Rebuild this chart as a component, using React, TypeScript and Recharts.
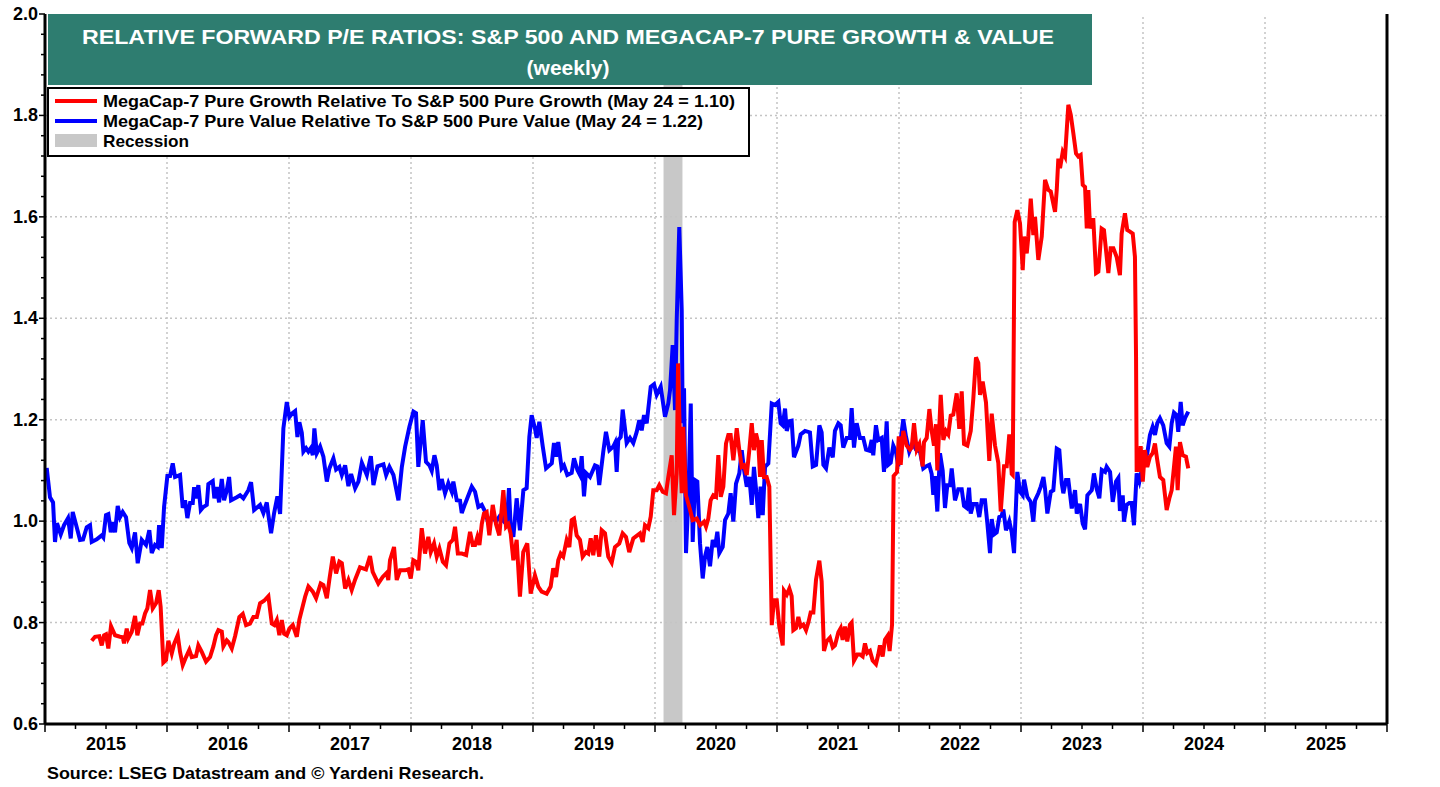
import { LineChart, Line, XAxis, YAxis, ReferenceArea, ReferenceLine } from "recharts"

// MegaCap-7 Pure Growth relative to S&P 500 Pure Growth, weekly (decimal year, ratio)
const growthSeries: [number, number][] = [
  [2015.383, 0.764], [2015.41, 0.772], [2015.445, 0.773], [2015.465, 0.755], [2015.484, 0.775], [2015.5, 0.777],
  [2015.519, 0.749], [2015.541, 0.793], [2015.574, 0.775], [2015.615, 0.772], [2015.637, 0.771], [2015.648, 0.759],
  [2015.67, 0.788], [2015.683, 0.769], [2015.711, 0.782], [2015.738, 0.813], [2015.757, 0.775], [2015.779, 0.798],
  [2015.798, 0.798], [2015.82, 0.818], [2015.839, 0.828], [2015.861, 0.864], [2015.883, 0.828], [2015.91, 0.838],
  [2015.932, 0.864], [2015.948, 0.831], [2015.97, 0.721], [2015.992, 0.726], [2016.011, 0.764], [2016.039, 0.739],
  [2016.06, 0.759], [2016.088, 0.775], [2016.107, 0.742], [2016.129, 0.716], [2016.156, 0.732], [2016.183, 0.746],
  [2016.203, 0.732], [2016.238, 0.734], [2016.257, 0.755], [2016.285, 0.742], [2016.32, 0.723], [2016.353, 0.732],
  [2016.38, 0.753], [2016.402, 0.775], [2016.421, 0.785], [2016.449, 0.782], [2016.462, 0.753], [2016.49, 0.765],
  [2016.503, 0.762], [2016.531, 0.749], [2016.558, 0.773], [2016.593, 0.811], [2016.621, 0.817], [2016.648, 0.795],
  [2016.68, 0.798], [2016.708, 0.811], [2016.736, 0.811], [2016.763, 0.838], [2016.796, 0.843], [2016.831, 0.852],
  [2016.859, 0.798], [2016.88, 0.795], [2016.9, 0.805], [2016.921, 0.775], [2016.941, 0.805], [2016.96, 0.778],
  [2016.982, 0.775], [2017.003, 0.788], [2017.031, 0.795], [2017.064, 0.772], [2017.085, 0.806], [2017.132, 0.851],
  [2017.159, 0.871], [2017.195, 0.861], [2017.222, 0.848], [2017.26, 0.877], [2017.282, 0.874], [2017.31, 0.848],
  [2017.331, 0.885], [2017.359, 0.93], [2017.386, 0.897], [2017.413, 0.92], [2017.433, 0.917], [2017.46, 0.867],
  [2017.487, 0.884], [2017.514, 0.864], [2017.541, 0.884], [2017.582, 0.909], [2017.631, 0.905], [2017.664, 0.931],
  [2017.686, 0.9], [2017.732, 0.877], [2017.768, 0.89], [2017.801, 0.898], [2017.814, 0.884], [2017.828, 0.923],
  [2017.861, 0.949], [2017.883, 0.884], [2017.91, 0.903], [2017.951, 0.903], [2017.978, 0.905], [2017.998, 0.887],
  [2018.019, 0.923], [2018.041, 0.92], [2018.06, 0.903], [2018.088, 0.986], [2018.115, 0.936], [2018.142, 0.969],
  [2018.162, 0.939], [2018.189, 0.956], [2018.211, 0.93], [2018.233, 0.946], [2018.261, 0.92], [2018.287, 0.913],
  [2018.315, 0.956], [2018.343, 0.963], [2018.361, 0.989], [2018.384, 0.936], [2018.417, 0.936], [2018.452, 0.933],
  [2018.484, 0.979], [2018.506, 0.953], [2018.525, 0.953], [2018.544, 0.969], [2018.561, 0.953], [2018.58, 0.994],
  [2018.598, 1.015], [2018.62, 1.018], [2018.642, 0.972], [2018.67, 1.032], [2018.697, 0.994], [2018.724, 0.972],
  [2018.757, 1.061], [2018.779, 0.989], [2018.798, 0.994], [2018.817, 0.975], [2018.839, 0.923], [2018.866, 0.963],
  [2018.893, 0.851], [2018.92, 0.939], [2018.953, 0.956], [2018.981, 0.857], [2019.016, 0.893], [2019.043, 0.871],
  [2019.071, 0.861], [2019.112, 0.857], [2019.145, 0.871], [2019.166, 0.907], [2019.189, 0.89], [2019.207, 0.923],
  [2019.227, 0.936], [2019.248, 0.93], [2019.276, 0.963], [2019.298, 0.949], [2019.317, 1.002], [2019.336, 1.005],
  [2019.358, 0.972], [2019.385, 0.963], [2019.407, 0.93], [2019.434, 0.939], [2019.453, 0.936], [2019.473, 0.966],
  [2019.494, 0.933], [2019.516, 0.972], [2019.543, 0.93], [2019.563, 0.982], [2019.59, 0.976], [2019.617, 0.93],
  [2019.645, 0.918], [2019.672, 0.949], [2019.707, 0.956], [2019.735, 0.976], [2019.762, 0.969], [2019.789, 0.939],
  [2019.822, 0.966], [2019.855, 0.972], [2019.877, 0.976], [2019.899, 0.959], [2019.918, 0.992], [2019.945, 0.986],
  [2019.965, 1.009], [2019.986, 1.061], [2020.014, 1.061], [2020.035, 1.071], [2020.063, 1.058], [2020.09, 1.055],
  [2020.109, 1.087], [2020.137, 1.13], [2020.156, 1.012], [2020.178, 1.094], [2020.189, 1.311], [2020.205, 1.153],
  [2020.219, 1.055], [2020.232, 1.186], [2020.254, 1.051], [2020.281, 1.028], [2020.309, 1.002], [2020.342, 1.005],
  [2020.369, 0.992], [2020.402, 0.999], [2020.418, 0.989], [2020.437, 1.005], [2020.456, 1.041], [2020.478, 1.051],
  [2020.5, 1.048], [2020.519, 1.13], [2020.539, 1.048], [2020.56, 1.068], [2020.582, 1.153], [2020.601, 1.17],
  [2020.62, 1.17], [2020.642, 1.12], [2020.67, 1.183], [2020.691, 1.14], [2020.711, 1.107], [2020.73, 1.11],
  [2020.752, 1.091], [2020.773, 1.14], [2020.793, 1.193], [2020.811, 1.14], [2020.828, 1.173], [2020.847, 1.153],
  [2020.861, 1.087], [2020.875, 1.16], [2020.893, 1.087], [2020.915, 1.087], [2020.937, 1.068], [2020.957, 0.795],
  [2020.975, 0.844], [2020.998, 0.844], [2021.019, 0.792], [2021.047, 0.755], [2021.057, 0.863], [2021.08, 0.855],
  [2021.101, 0.867], [2021.12, 0.852], [2021.134, 0.785], [2021.156, 0.789], [2021.175, 0.811], [2021.194, 0.792],
  [2021.216, 0.796], [2021.238, 0.785], [2021.257, 0.8], [2021.276, 0.82], [2021.298, 0.82], [2021.32, 0.885],
  [2021.347, 0.922], [2021.366, 0.881], [2021.385, 0.744], [2021.407, 0.763], [2021.434, 0.77], [2021.457, 0.751],
  [2021.475, 0.755], [2021.503, 0.781], [2021.522, 0.789], [2021.538, 0.766], [2021.557, 0.792], [2021.576, 0.763],
  [2021.598, 0.796], [2021.612, 0.8], [2021.631, 0.725], [2021.658, 0.737], [2021.68, 0.737], [2021.702, 0.733],
  [2021.721, 0.759], [2021.74, 0.74], [2021.762, 0.744], [2021.784, 0.725], [2021.811, 0.718], [2021.83, 0.737],
  [2021.844, 0.755], [2021.866, 0.733], [2021.885, 0.766], [2021.907, 0.774], [2021.923, 0.744], [2021.943, 0.796],
  [2021.956, 1.089], [2021.984, 1.097], [2021.998, 1.167], [2022.014, 1.111], [2022.035, 1.178], [2022.063, 1.149],
  [2022.09, 1.141], [2022.104, 1.145], [2022.123, 1.193], [2022.145, 1.141], [2022.167, 1.152], [2022.194, 1.108],
  [2022.205, 1.156], [2022.227, 1.164], [2022.249, 1.221], [2022.268, 1.178], [2022.287, 1.149], [2022.303, 1.191],
  [2022.314, 1.1], [2022.342, 1.249], [2022.363, 1.16], [2022.385, 1.178], [2022.404, 1.171], [2022.424, 1.208],
  [2022.445, 1.21], [2022.473, 1.252], [2022.494, 1.182], [2022.514, 1.256], [2022.533, 1.152], [2022.56, 1.149],
  [2022.588, 1.178], [2022.609, 1.241], [2022.631, 1.323], [2022.65, 1.312], [2022.664, 1.249], [2022.686, 1.275],
  [2022.713, 1.234], [2022.74, 1.119], [2022.76, 1.212], [2022.787, 1.149], [2022.814, 1.115], [2022.834, 1.019],
  [2022.861, 1.108], [2022.883, 1.108], [2022.904, 1.171], [2022.924, 1.093], [2022.932, 1.091], [2022.948, 1.59],
  [2022.97, 1.613], [2022.992, 1.587], [2023.014, 1.495], [2023.027, 1.561], [2023.047, 1.528], [2023.06, 1.561],
  [2023.08, 1.636], [2023.101, 1.564], [2023.115, 1.6], [2023.142, 1.515], [2023.17, 1.561], [2023.197, 1.673],
  [2023.224, 1.653], [2023.244, 1.65], [2023.279, 1.61], [2023.293, 1.653], [2023.306, 1.715], [2023.32, 1.696],
  [2023.342, 1.728], [2023.361, 1.719], [2023.388, 1.821], [2023.408, 1.801], [2023.429, 1.765], [2023.451, 1.725],
  [2023.47, 1.719], [2023.489, 1.722], [2023.506, 1.663], [2023.525, 1.659], [2023.539, 1.577], [2023.552, 1.653],
  [2023.566, 1.577], [2023.58, 1.594], [2023.593, 1.594], [2023.615, 1.489], [2023.634, 1.492], [2023.661, 1.577],
  [2023.68, 1.574], [2023.716, 1.489], [2023.735, 1.538], [2023.757, 1.538], [2023.784, 1.521], [2023.811, 1.485],
  [2023.825, 1.567], [2023.852, 1.607], [2023.871, 1.574], [2023.893, 1.571], [2023.916, 1.567], [2023.934, 1.521],
  [2023.943, 1.324], [2023.948, 1.101], [2023.97, 1.101], [2023.981, 1.148], [2023.998, 1.078], [2024.016, 1.14],
  [2024.035, 1.107], [2024.057, 1.127], [2024.079, 1.134], [2024.098, 1.153], [2024.117, 1.12], [2024.139, 1.087],
  [2024.166, 1.081], [2024.194, 1.022], [2024.216, 1.045], [2024.235, 1.061], [2024.254, 1.107], [2024.27, 1.147],
  [2024.284, 1.061], [2024.303, 1.156], [2024.325, 1.13], [2024.352, 1.127], [2024.371, 1.104],
]

// MegaCap-7 Pure Value relative to S&P 500 Pure Value, weekly (decimal year, ratio)
const valueSeries: [number, number][] = [
  [2015.014, 1.105], [2015.041, 1.047], [2015.066, 1.037], [2015.082, 0.959], [2015.098, 0.996], [2015.129, 0.974],
  [2015.156, 0.992], [2015.189, 1.006], [2015.211, 0.966], [2015.227, 1.018], [2015.26, 0.988], [2015.287, 0.963],
  [2015.312, 0.964], [2015.342, 0.988], [2015.369, 0.992], [2015.383, 0.959], [2015.424, 0.964], [2015.465, 0.972],
  [2015.478, 0.968], [2015.5, 1.012], [2015.519, 1.014], [2015.539, 0.978], [2015.555, 0.998], [2015.574, 0.978],
  [2015.596, 1.03], [2015.615, 1.008], [2015.637, 1.018], [2015.664, 1.008], [2015.691, 0.957], [2015.711, 0.947],
  [2015.738, 0.978], [2015.76, 0.917], [2015.793, 0.963], [2015.828, 0.953], [2015.855, 0.982], [2015.875, 0.937],
  [2015.902, 0.953], [2015.924, 0.949], [2015.935, 0.992], [2015.957, 0.947], [2015.976, 1.028], [2016.003, 1.089],
  [2016.025, 1.089], [2016.047, 1.114], [2016.066, 1.087], [2016.107, 1.091], [2016.129, 1.026], [2016.148, 1.041],
  [2016.167, 1.006], [2016.189, 1.036], [2016.211, 1.036], [2016.222, 1.067], [2016.238, 1.045], [2016.257, 1.071],
  [2016.277, 1.022], [2016.298, 1.028], [2016.326, 1.032], [2016.339, 1.073], [2016.375, 1.079], [2016.388, 1.045],
  [2016.408, 1.067], [2016.427, 1.037], [2016.449, 1.083], [2016.468, 1.041], [2016.49, 1.061], [2016.509, 1.087],
  [2016.525, 1.041], [2016.572, 1.047], [2016.599, 1.051], [2016.626, 1.045], [2016.667, 1.061], [2016.689, 1.077],
  [2016.714, 1.022], [2016.763, 1.032], [2016.79, 1.016], [2016.818, 1.037], [2016.831, 1.012], [2016.853, 0.976],
  [2016.878, 1.016], [2016.905, 1.049], [2016.927, 1.014], [2016.954, 1.183], [2016.982, 1.235], [2017.003, 1.205],
  [2017.028, 1.213], [2017.05, 1.217], [2017.069, 1.166], [2017.085, 1.195], [2017.105, 1.174], [2017.118, 1.137],
  [2017.14, 1.144], [2017.159, 1.137], [2017.179, 1.144], [2017.195, 1.13], [2017.208, 1.183], [2017.228, 1.134],
  [2017.255, 1.147], [2017.282, 1.127], [2017.31, 1.078], [2017.331, 1.104], [2017.364, 1.124], [2017.386, 1.102],
  [2017.413, 1.107], [2017.433, 1.091], [2017.46, 1.11], [2017.487, 1.069], [2017.509, 1.093], [2017.542, 1.065],
  [2017.569, 1.078], [2017.597, 1.115], [2017.638, 1.091], [2017.671, 1.128], [2017.692, 1.071], [2017.725, 1.108],
  [2017.774, 1.112], [2017.796, 1.091], [2017.823, 1.107], [2017.856, 1.091], [2017.897, 1.041], [2017.925, 1.107],
  [2017.952, 1.147], [2017.987, 1.186], [2018.02, 1.216], [2018.041, 1.213], [2018.06, 1.107], [2018.096, 1.199],
  [2018.123, 1.117], [2018.151, 1.11], [2018.17, 1.099], [2018.192, 1.13], [2018.211, 1.11], [2018.233, 1.061],
  [2018.252, 1.083], [2018.279, 1.055], [2018.306, 1.075], [2018.334, 1.058], [2018.347, 1.078], [2018.375, 1.041],
  [2018.402, 1.04], [2018.416, 1.016], [2018.443, 1.034], [2018.498, 1.068], [2018.525, 1.058], [2018.552, 1.028],
  [2018.58, 1.032], [2018.607, 1.019], [2018.634, 0.996], [2018.662, 1.009], [2018.697, 0.999], [2018.725, 1.009],
  [2018.752, 1.002], [2018.77, 1.036], [2018.784, 0.989], [2018.803, 1.065], [2018.817, 0.989], [2018.839, 0.969],
  [2018.866, 1.045], [2018.893, 0.982], [2018.921, 1.061], [2018.948, 1.065], [2018.97, 1.166], [2018.989, 1.209],
  [2019.016, 1.183], [2019.03, 1.164], [2019.052, 1.196], [2019.08, 1.147], [2019.107, 1.104], [2019.154, 1.114],
  [2019.172, 1.154], [2019.189, 1.127], [2019.207, 1.156], [2019.235, 1.104], [2019.254, 1.11], [2019.281, 1.091],
  [2019.317, 1.095], [2019.336, 1.124], [2019.364, 1.101], [2019.385, 1.091], [2019.399, 1.128], [2019.418, 1.049],
  [2019.434, 1.095], [2019.467, 1.087], [2019.508, 1.11], [2019.527, 1.108], [2019.543, 1.071], [2019.576, 1.137],
  [2019.598, 1.176], [2019.626, 1.14], [2019.658, 1.147], [2019.672, 1.154], [2019.686, 1.097], [2019.699, 1.16],
  [2019.719, 1.166], [2019.735, 1.22], [2019.768, 1.154], [2019.795, 1.164], [2019.822, 1.154], [2019.85, 1.176],
  [2019.871, 1.199], [2019.891, 1.179], [2019.91, 1.209], [2019.932, 1.193], [2019.965, 1.265], [2019.992, 1.27],
  [2020.014, 1.249], [2020.047, 1.265], [2020.082, 1.206], [2020.109, 1.232], [2020.123, 1.258], [2020.145, 1.347],
  [2020.164, 1.219], [2020.178, 1.396], [2020.199, 1.58], [2020.219, 1.416], [2020.227, 1.193], [2020.238, 1.262],
  [2020.254, 0.937], [2020.273, 1.041], [2020.293, 1.232], [2020.309, 0.959], [2020.328, 1.081], [2020.347, 1.078],
  [2020.369, 0.956], [2020.391, 0.887], [2020.41, 0.93], [2020.429, 0.949], [2020.451, 0.911], [2020.473, 0.963],
  [2020.492, 0.949], [2020.511, 0.979], [2020.527, 0.937], [2020.555, 0.949], [2020.574, 1.002], [2020.601, 1.015],
  [2020.62, 1.055], [2020.642, 0.999], [2020.664, 1.074], [2020.691, 1.094], [2020.711, 1.14], [2020.73, 1.101],
  [2020.752, 1.068], [2020.773, 1.087], [2020.793, 1.032], [2020.811, 1.107], [2020.834, 1.048], [2020.847, 1.006],
  [2020.866, 1.068], [2020.883, 1.012], [2020.902, 1.107], [2020.929, 1.114], [2020.957, 1.232], [2020.984, 1.229],
  [2021.011, 1.235], [2021.03, 1.193], [2021.047, 1.189], [2021.066, 1.222], [2021.08, 1.178], [2021.101, 1.197],
  [2021.12, 1.198], [2021.139, 1.126], [2021.175, 1.149], [2021.194, 1.171], [2021.23, 1.178], [2021.27, 1.175],
  [2021.293, 1.108], [2021.32, 1.111], [2021.347, 1.189], [2021.366, 1.175], [2021.38, 1.111], [2021.402, 1.104],
  [2021.429, 1.145], [2021.457, 1.126], [2021.475, 1.178], [2021.503, 1.193], [2021.522, 1.189], [2021.543, 1.145],
  [2021.571, 1.164], [2021.598, 1.164], [2021.612, 1.223], [2021.631, 1.145], [2021.653, 1.193], [2021.68, 1.164],
  [2021.707, 1.164], [2021.73, 1.141], [2021.757, 1.139], [2021.776, 1.16], [2021.789, 1.13], [2021.811, 1.189],
  [2021.83, 1.16], [2021.858, 1.164], [2021.877, 1.097], [2021.899, 1.197], [2021.912, 1.111], [2021.932, 1.115],
  [2021.953, 1.149], [2021.975, 1.137], [2021.994, 1.108], [2022.014, 1.16], [2022.035, 1.201], [2022.057, 1.167],
  [2022.084, 1.137], [2022.112, 1.154], [2022.139, 1.141], [2022.172, 1.137], [2022.199, 1.104], [2022.221, 1.108],
  [2022.248, 1.111], [2022.268, 1.093], [2022.281, 1.052], [2022.295, 1.089], [2022.314, 1.019], [2022.336, 1.134],
  [2022.358, 1.1], [2022.377, 1.026], [2022.396, 1.071], [2022.418, 1.071], [2022.432, 1.104], [2022.459, 1.041],
  [2022.486, 1.063], [2022.514, 1.063], [2022.533, 1.03], [2022.555, 1.026], [2022.574, 1.066], [2022.588, 1.015],
  [2022.609, 1.034], [2022.637, 1.034], [2022.658, 1.008], [2022.678, 1.041], [2022.705, 1.041], [2022.724, 0.996],
  [2022.746, 0.937], [2022.76, 1.004], [2022.779, 0.974], [2022.801, 0.978], [2022.822, 1.008], [2022.842, 1.011],
  [2022.855, 1.023], [2022.877, 0.982], [2022.904, 1.0], [2022.924, 0.978], [2022.943, 0.937], [2022.97, 1.097],
  [2022.992, 1.058], [2023.014, 1.051], [2023.025, 1.082], [2023.052, 1.048], [2023.08, 1.038], [2023.101, 0.999],
  [2023.115, 1.041], [2023.142, 1.055], [2023.162, 1.068], [2023.184, 1.087], [2023.197, 1.064], [2023.216, 1.015],
  [2023.244, 1.058], [2023.265, 1.061], [2023.293, 1.143], [2023.314, 1.14], [2023.334, 1.074], [2023.347, 1.055],
  [2023.369, 1.081], [2023.388, 1.081], [2023.416, 1.025], [2023.443, 1.061], [2023.457, 1.015], [2023.484, 1.034],
  [2023.506, 0.995], [2023.525, 0.984], [2023.544, 1.051], [2023.58, 1.061], [2023.598, 1.094], [2023.62, 1.064],
  [2023.642, 1.045], [2023.662, 1.101], [2023.689, 1.097], [2023.702, 1.107], [2023.73, 1.097], [2023.752, 1.038],
  [2023.779, 1.078], [2023.798, 1.085], [2023.811, 1.02], [2023.834, 1.051], [2023.844, 0.999], [2023.866, 1.032],
  [2023.888, 1.036], [2023.907, 1.036], [2023.926, 0.992], [2023.948, 1.094], [2023.97, 1.078], [2023.989, 1.101],
  [2024.016, 1.12], [2024.035, 1.134], [2024.057, 1.17], [2024.079, 1.186], [2024.098, 1.17], [2024.117, 1.193],
  [2024.139, 1.203], [2024.166, 1.189], [2024.194, 1.154], [2024.216, 1.147], [2024.235, 1.193], [2024.254, 1.214],
  [2024.276, 1.209], [2024.289, 1.176], [2024.309, 1.235], [2024.325, 1.189], [2024.344, 1.203], [2024.371, 1.216],
]

// NBER recession (Feb-Apr 2020), decimal years
const recession = [2020.07, 2020.225]

const yearLabels = [2015, 2016, 2017, 2018, 2019, 2020, 2021, 2022, 2023, 2024, 2025]
const yMajorTicks = [0.6, 0.8, 1.0, 1.2, 1.4, 1.6, 1.8, 2.0]
const gridValues = [0.8, 1.0, 1.2, 1.4, 1.6, 1.8]

const title = "RELATIVE FORWARD P/E RATIOS: S&P 500 AND MEGACAP-7 PURE GROWTH & VALUE"
const subtitle = "(weekly)"
const growthLabel = "MegaCap-7 Pure Growth Relative To S&P 500 Pure Growth (May 24 = 1.10)"
const valueLabel = "MegaCap-7 Pure Value Relative To S&P 500 Pure Value (May 24 = 1.22)"
const source = "Source: LSEG Datastream and \u00a9 Yardeni Research."

const FONT = "'Liberation Sans', Arial, sans-serif"
const RED = "#ff0000"
const BLUE = "#0000ff"
const TEAL = "#2e7d70"

const growthData = growthSeries.map(([t, v]) => ({ t, v }))
const valueData = valueSeries.map(([t, v]) => ({ t, v }))

// quarterly ticks on x, minor 0.04 ticks on y
const xTicks: number[] = []
for (let y = yearLabels[0]; y <= 2026; y += 0.25) xTicks.push(y)
const yTicks: number[] = []
for (let i = 0; i <= 35; i++) yTicks.push(Math.round((0.6 + i * 0.04) * 100) / 100)

const isMajorY = (v: number) => yMajorTicks.some((m) => Math.abs(m - v) < 1e-6)

const LeftTick = (props: any) => {
  const { x, y, payload } = props
  const major = isMajorY(payload.value)
  return (
    <g>
      <line x1={x} x2={x - (major ? 6 : 4)} y1={y} y2={y} stroke="#000" strokeWidth={1.5} />
      {major && (
        <text x={x - 7} y={y + 6} textAnchor="end" fontFamily={FONT} fontWeight="bold" fontSize={18} fill="#000">
          {payload.value.toFixed(1)}
        </text>
      )}
    </g>
  )
}

const RightTick = (props: any) => {
  const { x, y, payload } = props
  const major = isMajorY(payload.value)
  return (
    <g>
      <line x1={x} x2={x + (major ? 6 : 4)} y1={y} y2={y} stroke="#000" strokeWidth={1.5} />
      {major && (
        <text x={x + 9} y={y + 6} textAnchor="start" fontFamily={FONT} fontWeight="bold" fontSize={18} fill="#000">
          {payload.value.toFixed(1)}
        </text>
      )}
    </g>
  )
}

const BottomTick = (props: any) => {
  const { x, y, payload } = props
  const v = payload.value as number
  const frac = v - Math.floor(v)
  const major = frac < 1e-6
  return (
    <g>
      <line x1={x} x2={x} y1={y} y2={y + (major ? 8 : 5)} stroke="#000" strokeWidth={1.5} />
      {Math.abs(frac - 0.5) < 1e-6 && (
        <text x={x} y={y + 26} textAnchor="middle" fontFamily={FONT} fontWeight="bold" fontSize={18} fill="#000">
          {Math.floor(v)}
        </text>
      )}
    </g>
  )
}

export default function App() {
  return (
    <div style={{ position: "absolute", left: 0, top: 0, width: 1440, height: 787, background: "#fff" }}>
      <LineChart width={1440} height={787} margin={{ top: 14, right: 0, bottom: 33, left: 0 }}>
        <XAxis
          type="number"
          dataKey="t"
          domain={[2015, 2026]}
          ticks={xTicks}
          allowDataOverflow
          height={30}
          tickSize={0}
          tickMargin={0}
          tickLine={false}
          interval={0}
          tick={<BottomTick />}
          axisLine={{ stroke: "#000", strokeWidth: 3 }}
        />
        <YAxis
          yAxisId="left"
          domain={[0.6, 2.0]}
          ticks={yTicks}
          width={45}
          tickSize={0}
          tickMargin={0}
          tickLine={false}
          interval={0}
          tick={<LeftTick />}
          axisLine={{ stroke: "#000", strokeWidth: 3 }}
        />
        <YAxis
          yAxisId="right"
          orientation="right"
          domain={[0.6, 2.0]}
          ticks={yTicks}
          width={53}
          tickSize={0}
          tickMargin={0}
          tickLine={false}
          interval={0}
          tick={<RightTick />}
          axisLine={{ stroke: "#000", strokeWidth: 3 }}
        />
        {gridValues.map((g) => (
          <ReferenceLine key={"h" + g} yAxisId="left" y={g} stroke="#c4c4c4" strokeWidth={1.5} strokeDasharray="2 3" />
        ))}
        {yearLabels.slice(1).map((yr) => (
          <ReferenceLine key={"v" + yr} yAxisId="left" x={yr} stroke="#c4c4c4" strokeWidth={1.5} strokeDasharray="2 3" />
        ))}
        <ReferenceArea
          yAxisId="left"
          x1={recession[0]}
          x2={recession[1]}
          y1={0.6}
          y2={2.0}
          fill="#c8c8c8"
          fillOpacity={1}
          stroke="none"
        />
        <Line
          yAxisId="left"
          data={valueData}
          dataKey="v"
          type="linear"
          stroke={BLUE}
          strokeWidth={4}
          dot={false}
          isAnimationActive={false}
        />
        <Line
          yAxisId="left"
          data={growthData}
          dataKey="v"
          type="linear"
          stroke={RED}
          strokeWidth={4}
          dot={false}
          isAnimationActive={false}
        />
      </LineChart>

      <svg
        width={1440}
        height={787}
        style={{ position: "absolute", left: 0, top: 0, pointerEvents: "none" }}
      >
        <rect x={48} y={14} width={1044} height={71} fill={TEAL} />
        <text x={568} y={44} textAnchor="middle" fontFamily={FONT} fontWeight="bold" fontSize={21} fill="#fff"
          textLength={972} lengthAdjust="spacingAndGlyphs">
          {title}
        </text>
        <text x={568} y={75} textAnchor="middle" fontFamily={FONT} fontWeight="bold" fontSize={21} fill="#fff">
          {subtitle}
        </text>

        <rect x={48} y={88} width={701} height={68} fill="#fff" stroke="#000" strokeWidth={2} />
        <line x1={55} x2={97} y1={101} y2={101} stroke={RED} strokeWidth={4} />
        <text x={103} y={107} fontFamily={FONT} fontWeight="bold" fontSize={17} fill="#000"
          textLength={632} lengthAdjust="spacingAndGlyphs">
          {growthLabel}
        </text>
        <line x1={55} x2={97} y1={121} y2={121} stroke={BLUE} strokeWidth={4} />
        <text x={103} y={127} fontFamily={FONT} fontWeight="bold" fontSize={17} fill="#000"
          textLength={600} lengthAdjust="spacingAndGlyphs">
          {valueLabel}
        </text>
        <rect x={55} y={134} width={42} height={13} fill="#c8c8c8" />
        <text x={103} y={147} fontFamily={FONT} fontWeight="bold" fontSize={17} fill="#000"
          textLength={86} lengthAdjust="spacingAndGlyphs">
          Recession
        </text>

        <text x={47} y={779} fontFamily={FONT} fontWeight="bold" fontSize={17} fill="#000"
          textLength={437} lengthAdjust="spacingAndGlyphs">
          {source}
        </text>
      </svg>
    </div>
  )
}
